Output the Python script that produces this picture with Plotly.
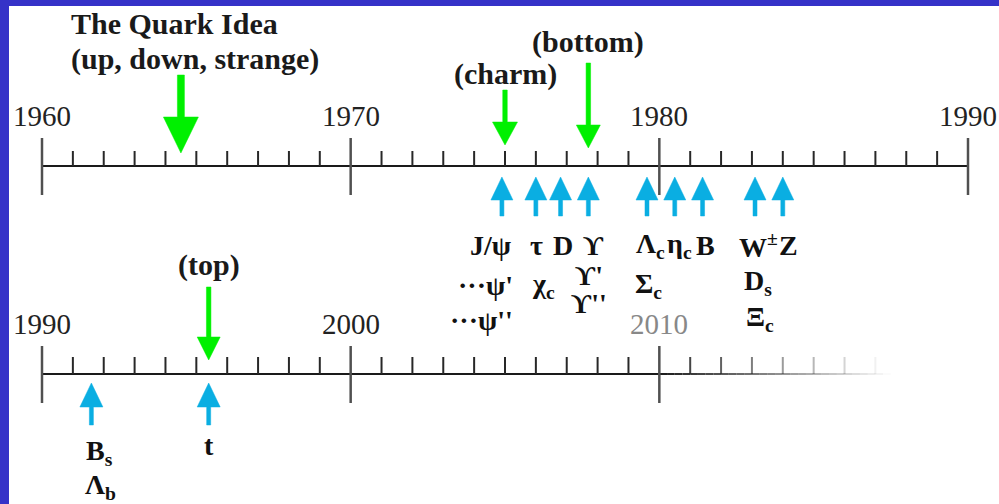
import plotly.graph_objects as go

# ---------------- data ----------------
row1_start, row1_end = 1960, 1990
row2_start, row2_end = 1990, 2020
fade_from, fade_to = 2010, 2017.5          # bottom timeline fades out
row1_year_labels = [1960, 1970, 1980, 1990]
row2_year_labels = [1990, 2000, 2010]

prediction_years = [1964.5, 1975.0, 1977.7, 1995.4]
prediction_texts = [["The Quark Idea", "(up, down, strange)"], ["(charm)"], ["(bottom)"], ["(top)"]]

discovery_years = [1974.9, 1976.0, 1976.8, 1977.7, 1979.6, 1980.5, 1981.4,
                   1983.1, 1984.0, 1991.6, 1995.4]
discovery_labels = [
    ["J/ψ", "···ψ'", "···ψ''"],
    ["τ", "χ<sub>c</sub>"],
    ["D"],
    ["ϒ", "ϒ'", "ϒ''"],
    ["Λ<sub>c</sub>", "Σ<sub>c</sub>"],
    ["η<sub>c</sub>"],
    ["B"],
    ["W<sup>±</sup>", "D<sub>s</sub>", "Ξ<sub>c</sub>"],
    ["Z"],
    ["B<sub>s</sub>", "Λ<sub>b</sub>"],
    ["t"],
]

# ---------------- styling ----------------
W, H = 999, 504
ML, MT = 9, 6
X0PX, X1PX = 42, 968
PPY = (X1PX - X0PX) / 30.0
BLUE_BG = "#3532C8"
GREEN = "#00F000"
CYAN = "#0AAEE2"
FONT = "Liberation Serif, DejaVu Serif, serif"
ROW_Y = {1: 166, 2: 374}

def px2yr(dpx):
    return dpx / PPY

def xrange(start):
    return [start - px2yr(X0PX - ML), start + px2yr(W - X0PX)]

def xref_for(year):
    return "x" if year < row1_end else "x2"

fig = go.Figure()

def add_line(xs, ys, color, width, xaxis="x"):
    fig.add_trace(go.Scatter(x=xs, y=ys, mode="lines", xaxis=xaxis, yaxis="y",
                             line=dict(color=color, width=width),
                             hoverinfo="skip", showlegend=False))

def fade_alpha(yr):
    if yr <= fade_from:
        return 1.0
    return max(0.0, 1 - (yr - fade_from) / (fade_to - fade_from))

# ---- timelines ----
for row, (start, end, xa) in {1: (row1_start, row1_end, "x"), 2: (row2_start, row2_end, "x2")}.items():
    base = ROW_Y[row]
    major_top, major_bot = (base - 28, base + 29)
    minor_top = base - (15 if row == 1 else 17)
    line_end = end if row == 1 else fade_to
    solid_end = end if row == 1 else fade_from
    add_line([start, solid_end], [base, base], "#1a1a1a", 2, xa)
    if row == 2:
        n = 30
        for i in range(n):
            a = fade_from + (fade_to - fade_from) * i / n
            b = fade_from + (fade_to - fade_from) * (i + 1) / n
            al = fade_alpha((a + b) / 2)
            add_line([a, b], [base, base], f"rgba(26,26,26,{al:.3f})", 2, xa)
    yr = start
    while yr <= min(end, line_end):
        al = fade_alpha(yr)
        if al > 0.03:
            if yr % 10 == 0:
                add_line([yr, yr], [major_top, major_bot], f"rgba(80,80,80,{al:.3f})", 2.5, xa)
            else:
                add_line([yr, yr], [minor_top, base], f"rgba(40,40,40,{al:.3f})", 2, xa)
        yr += 1

# ---- year labels ----
for yl in row1_year_labels:
    fig.add_annotation(x=yl, y=116, xref="x", yref="y", text=str(yl), showarrow=False,
                       font=dict(family=FONT, size=29, color="#222"), xanchor="center", yanchor="middle")
for yl in row2_year_labels:
    col = "#888" if yl >= fade_from else "#222"
    fig.add_annotation(x=yl, y=324, xref="x2", yref="y", text=str(yl), showarrow=False,
                       font=dict(family=FONT, size=29, color=col), xanchor="center", yanchor="middle")

# ---- arrows ----
def arrow_poly(xc, tail, tip, head_len, head_w, shaft_w):
    d = 1 if tip > tail else -1
    hb = tip - d * head_len
    sw, hw = px2yr(shaft_w) / 2, px2yr(head_w) / 2
    xs = [xc - sw, xc + sw, xc + sw, xc + hw, xc, xc - hw, xc - sw, xc - sw, None]
    ys = [tail, tail, hb, hb, tip, hb, hb, tail, None]
    return xs, ys

def add_arrows(polys, color, xa):
    xs, ys = [], []
    for p in polys:
        xs += p[0]; ys += p[1]
    fig.add_trace(go.Scatter(x=xs, y=ys, mode="lines", fill="toself", fillcolor=color,
                             line=dict(color=color, width=0.5), xaxis=xa, yaxis="y",
                             hoverinfo="skip", showlegend=False))

# prediction arrows (green, pointing down): tail, tip, head length, head width, shaft width
pred_style = [(75, 153, 36, 35, 7), (90, 145, 23, 25, 4.5), (63, 148, 23, 24, 4.5), (287, 360, 23, 23, 4.5)]
for xa in ("x", "x2"):
    polys = [arrow_poly(y, *s) for y, s in zip(prediction_years, pred_style) if xref_for(y) == xa]
    add_arrows(polys, GREEN, xa)

# discovery arrows (cyan, pointing up)
for xa in ("x", "x2"):
    st = (216, 177, 23, 22, 4) if xa == "x" else (425, 383, 24, 23, 4)
    polys = [arrow_poly(y, *st) for y in discovery_years if xref_for(y) == xa]
    add_arrows(polys, CYAN, xa)

# ---- prediction texts ----
pred_text_pos = [("left", -112, [23, 59]), ("center", 0, [74]), ("center", 0, [42]), ("center", 0, [265])]
for yr, lines, (anch, dx, tys) in zip(prediction_years, prediction_texts, pred_text_pos):
    for txt, ty in zip(lines, tys):
        fig.add_annotation(x=yr, y=ty, xref=xref_for(yr), yref="y", text=f"<b>{txt}</b>", showarrow=False,
                           xshift=dx, xanchor=anch, yanchor="middle",
                           font=dict(family=FONT, size=30, color="#1a1a1a"))

# ---- discovery labels ----
label_style = [
    [(-11, 245), (-16, 285), (-20, 320)],
    [(1, 245), (8, 285)],
    [(2, 245)],
    [(5, 245), (1, 275), (1, 303)],
    [(4, 245), (2, 285)],
    [(5, 245)],
    [(3, 245)],
    [(3, 245), (3, 282), (5, 318)],
    [(6, 245)],
    [(8, 452), (9, 486)],
    [(0, 445)],
]
for yr, labels, styles in zip(discovery_years, discovery_labels, label_style):
    for lab, (dx, ty) in zip(labels, styles):
        fig.add_annotation(x=yr, y=ty, xref=xref_for(yr), yref="y", text=f"<b>{lab}</b>",
                           showarrow=False, xshift=dx, xanchor="center", yanchor="middle",
                           font=dict(family=FONT, size=28, color="#111"))

fig.update_layout(
    width=W, height=H,
    margin=dict(l=ML, t=MT, r=0, b=0, autoexpand=False),
    paper_bgcolor=BLUE_BG, plot_bgcolor="white",
    xaxis=dict(range=xrange(row1_start), visible=False, fixedrange=True),
    xaxis2=dict(range=xrange(row2_start), visible=False, overlaying="x", anchor="y", fixedrange=True),
    yaxis=dict(range=[H, MT], visible=False, fixedrange=True),
    showlegend=False,
)
fig.write_html("out.html", config={"displayModeBar": False},
               post_script="document.body.style.margin='0px';document.body.style.overflow='hidden';")
